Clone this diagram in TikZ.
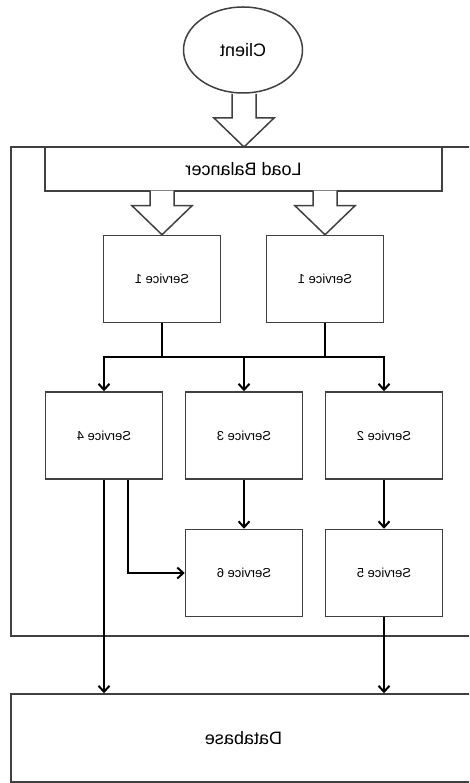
\documentclass[tikz,border=0pt]{standalone}
\usepackage{fontspec}
\setmainfont{Liberation Sans}
\usetikzlibrary{arrows.meta,calc,shapes.geometric}
\tikzset{
  boxline/.style={draw=black!75, line width=1.5pt},
  svc/.style={boxline, rectangle, fill=white, minimum width=117pt, minimum height=87pt, inner sep=0pt, font=\fontsize{13}{15}\selectfont},
  bigtext/.style={font=\fontsize{18}{22}\selectfont},
  conn/.style={draw=black, line width=2pt},
  arr/.style={conn, -{Straight Barb[length=6pt,width=11pt,line width=2pt]}},
  pics/fatarrow/.style={code={
    \draw[boxline, fill=white, line join=miter] (-12,{-29-#1}) -- (-12,-29) -- (-30,-29) -- (0,0) -- (30,-29) -- (12,-29) -- (12,{-29-#1});
  }}
}
\newcommand{\mir}[1]{\reflectbox{#1}}
\begin{document}
\begin{tikzpicture}[x=1pt,y=-1pt]
\path[use as bounding box, clip] (0,0) rectangle (469,783);
\fill[white] (0,0) rectangle (469,783);
% container
\draw[boxline] (11,147) rectangle (490,636);
% client
\pic at (244,147) {fatarrow=24};
\node[boxline, ellipse, fill=white, minimum width=119pt, minimum height=86pt, inner sep=0pt, bigtext] (client) at (243,50) {\mir{Client}};
% load balancer
\node[boxline, rectangle, fill=white, minimum width=397pt, minimum height=44pt, inner sep=0pt, bigtext] (lb) at (243.5,169) {\mir{Load Balancer}};
% services
\node[svc] (s1a) at (162,279) {\mir{Service 1}};
\node[svc] (s1b) at (325,279) {\mir{Service 1}};
\node[svc] (s4) at (104,435.5) {\mir{Service 4}};
\node[svc] (s3) at (244,435.5) {\mir{Service 3}};
\node[svc] (s2) at (384,435.5) {\mir{Service 2}};
\node[svc] (s6) at (244,573) {\mir{Service 6}};
\node[svc] (s5) at (384,573) {\mir{Service 5}};
% block arrows from LB
\pic at (s1a.north) {fatarrow=15};
\pic at (s1b.north) {fatarrow=15};
% database
\node[boxline, rectangle, fill=white, minimum width=465pt, minimum height=88pt, inner sep=0pt, bigtext] (db) at (243.5,738) {\mir{Database}};
% bus
\coordinate (bus) at (0,357);
\draw[conn] (s1a.south) -- (s1a.south |- bus);
\draw[conn] (s1b.south) -- (s1b.south |- bus);
\draw[conn, line cap=rect] (s4.north |- bus) -- (s2.north |- bus);
\draw[arr] (s4.north |- bus) -- (s4.north);
\draw[arr] (s3.north |- bus) -- (s3.north);
\draw[arr] (s2.north |- bus) -- (s2.north);
% lower connections
\draw[arr] (s3.south) -- (s6.north);
\draw[arr] (s2.south) -- (s5.north);
\draw[arr] ([xshift=24pt]s4.south) |- (s6.west);
\draw[arr] (s4.south) -- (s4.south |- db.north);
\draw[arr] (s5.south) -- (s5.south |- db.north);
\end{tikzpicture}
\end{document}
